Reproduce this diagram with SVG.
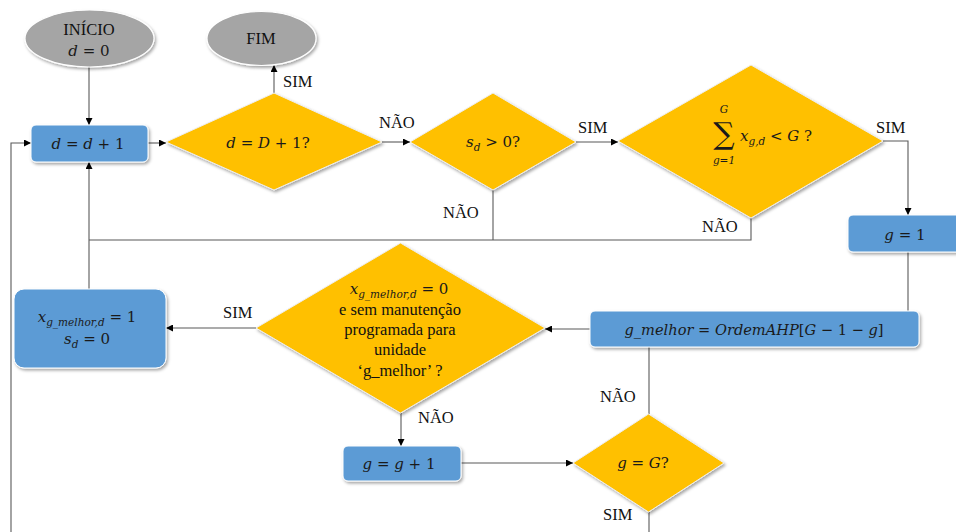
<svg xmlns="http://www.w3.org/2000/svg" width="956" height="532" viewBox="0 0 956 532">
  <defs>
    <filter id="sh" x="-10%" y="-10%" width="125%" height="130%">
      <feDropShadow dx="1.5" dy="2" stdDeviation="1.5" flood-color="#000" flood-opacity="0.35"/>
    </filter>
    <marker id="ah" viewBox="0 0 10 10" refX="10" refY="5" markerWidth="8" markerHeight="7" markerUnits="userSpaceOnUse" orient="auto">
      <path d="M0,0 L10,5 L0,10 z" fill="#000"/>
    </marker>
    <style>
      .box { fill: #5B9BD5; stroke: #ffffff; stroke-width: 1; filter: url(#sh); }
      .dec { fill: #FFC000; stroke: #eeeeee; stroke-width: 1; filter: url(#sh); }
      .term { fill: #A5A5A5; stroke: #ffffff; stroke-width: 1.2; filter: url(#sh); }
      text { font-family: 'Liberation Serif', 'Times New Roman', serif; fill: #111; }
      .lbl { font-size: 16.5px; }
      .t { font-size: 16.5px; text-anchor: middle; }
      .m { font-family: 'DejaVu Serif', serif; font-size: 15px; fill: #1a1a1a; text-anchor: middle; }
      .i { font-style: italic; }
      .s { font-size: 10.5px; font-style: italic; }
      .c { stroke: #595959; stroke-width: 1.1; fill: none; }
      .a { marker-end: url(#ah); }
    </style>
  </defs>

  <!-- connectors -->
  <g id="connectors">
    <path class="c a" d="M89,67 V125"/>
    <path class="c a" d="M148,143 H166"/>
    <path class="c a" d="M274,93 V65"/>
    <path class="c a" d="M382,142 H410"/>
    <path class="c a" d="M576,142 H618"/>
    <path class="c" d="M751,218 V240 H89"/>
    <path class="c" d="M493,190 V240"/>
    <path class="c a" d="M89,289 V162"/>
    <path class="c a" d="M883,141 H908 V215"/>
    <path class="c" d="M908,252 V311"/>
    <path class="c a" d="M590,329 H545"/>
    <path class="c a" d="M256,328 H166"/>
    <path class="c a" d="M401,413 V446"/>
    <path class="c a" d="M461,463 H573"/>
    <path class="c" d="M649,414 V347"/>
    <path class="c" d="M649,512 V532"/>
    <path class="c a" d="M11,532 V143 H31"/>

    <text class="lbl" x="283" y="87">SIM</text>
    <text class="lbl" x="379" y="128">NÃO</text>
    <text class="lbl" x="578" y="133">SIM</text>
    <text class="lbl" x="443" y="218">NÃO</text>
    <text class="lbl" x="702" y="232">NÃO</text>
    <text class="lbl" x="876" y="133">SIM</text>
    <text class="lbl" x="223" y="318">SIM</text>
    <text class="lbl" x="418" y="423">NÃO</text>
    <text class="lbl" x="600" y="402">NÃO</text>
    <text class="lbl" x="603" y="520">SIM</text>
  </g>

  <!-- start -->
  <g id="inicio">
    <ellipse class="term" cx="89.5" cy="38.5" rx="64.5" ry="28.5"/>
    <text class="t" x="89" y="35">INÍCIO</text>
    <text class="m" x="89" y="56"><tspan class="i">d</tspan> = 0</text>
  </g>

  <!-- end -->
  <g id="fim">
    <ellipse class="term" cx="261.5" cy="38.5" rx="54.5" ry="27"/>
    <text class="t" x="261" y="44">FIM</text>
  </g>

  <!-- day increment -->
  <g id="inc-d">
    <rect class="box" x="31" y="125" width="117" height="37" rx="5"/>
    <text class="m" x="88" y="149"><tspan class="i">d</tspan> = <tspan class="i">d</tspan> + 1</text>
  </g>

  <!-- last day reached? -->
  <g id="dec-fim">
    <polygon class="dec" points="166,142 274,93 382,142 274,190"/>
    <text class="m" x="268" y="148"><tspan class="i">d</tspan> = <tspan class="i">D</tspan> + 1?</text>
  </g>

  <!-- demand still open? -->
  <g id="dec-sd">
    <polygon class="dec" points="410,142 493,93 576,142 493,190"/>
    <text class="m" x="493" y="147"><tspan class="i">s</tspan><tspan class="s" dy="3.5">d</tspan><tspan dy="-3.5"> &gt; 0?</tspan></text>
  </g>

  <!-- units already scheduled -->
  <g id="dec-soma">
    <polygon class="dec" points="618,141 751,65 883,141 751,218"/>
    <text class="m" x="724" y="113" style="font-size:10.5px;font-style:italic">G</text>
    <text class="m" x="724" y="144" style="font-size:30px">∑</text>
    <text class="m" x="724" y="164" style="font-size:10.5px;font-style:italic">g=1</text>
    <text class="m" x="740" y="141" style="text-anchor:start"><tspan class="i">x</tspan><tspan class="s" dy="3.5">g,d</tspan><tspan dy="-3.5"> &lt; </tspan><tspan class="i">G</tspan> ?</text>
  </g>

  <!-- first unit -->
  <g id="g-init">
    <rect class="box" x="848" y="215" width="118" height="37" rx="5"/>
    <text class="m" x="905" y="240"><tspan class="i">g</tspan> = 1</text>
  </g>

  <!-- best unit by AHP order -->
  <g id="g-melhor">
    <rect class="box" x="590" y="311" width="329" height="36" rx="5"/>
    <text class="m" x="754" y="335" style="font-size:14.6px"><tspan class="i">g_melhor</tspan> = <tspan class="i">OrdemAHP</tspan>[<tspan class="i">G</tspan> − 1 − <tspan class="i">g</tspan>]</text>
  </g>

  <!-- unit available? -->
  <g id="dec-melhor">
    <polygon class="dec" points="256,328 400.5,243 545,328 400.5,413"/>
    <text class="m" x="399" y="294"><tspan class="i">x</tspan><tspan class="s" dy="3.5">g_melhor,d</tspan><tspan dy="-3.5"> = 0</tspan></text>
    <text class="t" x="400" y="315">e sem manutenção</text>
    <text class="t" x="400" y="335">programada para</text>
    <text class="t" x="400" y="355">unidade</text>
    <text class="t" x="400" y="376">‘g_melhor’ ?</text>
  </g>

  <!-- schedule unit -->
  <g id="alocar">
    <rect class="box" x="14" y="289" width="152" height="79" rx="10"/>
    <text class="m" x="87" y="322"><tspan class="i">x</tspan><tspan class="s" dy="3.5">g_melhor,d</tspan><tspan dy="-3.5"> = 1</tspan></text>
    <text class="m" x="87" y="344"><tspan class="i">s</tspan><tspan class="s" dy="3.5">d</tspan><tspan dy="-3.5"> = 0</tspan></text>
  </g>

  <!-- next unit -->
  <g id="inc-g">
    <rect class="box" x="343" y="446" width="118" height="35" rx="5"/>
    <text class="m" x="399" y="469"><tspan class="i">g</tspan> = <tspan class="i">g</tspan> + 1</text>
  </g>

  <!-- all units checked? -->
  <g id="dec-g">
    <polygon class="dec" points="573,463 648.5,414 724,463 648.5,512"/>
    <text class="m" x="643" y="468"><tspan class="i">g</tspan> = <tspan class="i">G</tspan>?</text>
  </g>
</svg>
